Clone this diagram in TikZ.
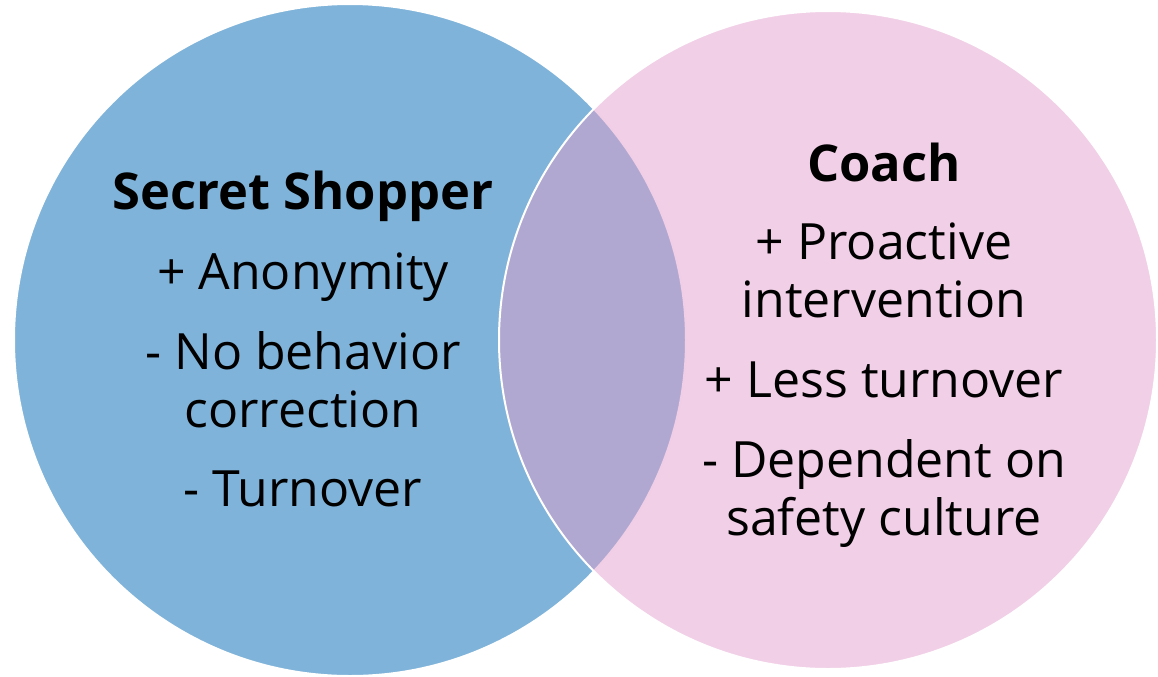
\documentclass[tikz,border=0pt]{standalone}
\usepackage{fontspec}
\usepackage{xcolor}
\usepackage{tikz}
\setmainfont{Open Sans}

\definecolor{shopperblue}{RGB}{127,179,217}
\definecolor{coachpink}{RGB}{227,159,205}

\begin{document}
\begin{tikzpicture}[x=0.75pt,y=0.75pt,yscale=-1,xscale=1,
  circ/.style={draw=white,line width=1.5pt},
  head/.style={anchor=base,inner sep=0pt,align=center,font=\fontsize{38}{43.5}\selectfont\bfseries},
  item/.style={anchor=base,inner sep=0pt,align=center,font=\fontsize{37.5}{43.5}\selectfont}]
\useasboundingbox (0,0) rectangle (1158,676);
% circles
\draw [circ,fill=shopperblue] (350,340) circle (336);
\draw [circ,fill=coachpink,fill opacity=0.5] (828,340) circle (329);
% left texts
\node [head] (shopper) at (303,209) {Secret Shopper};
\node [item] (anon) at (303,289) {+ Anonymity};
\node [item] (nobeh) at (303,427) {- No behavior\\correction};
\node [item] (turn) at (303,506) {- Turnover};
% right texts
\node [head] (coach) at (884,181) {Coach};
\node [item] (proact) at (884,317) {+ Proactive\\intervention};
\node [item] (less) at (884,397) {+ Less turnover};
\node [item] (depend) at (884,535) {- Dependent on\\safety culture};
\end{tikzpicture}
\end{document}
